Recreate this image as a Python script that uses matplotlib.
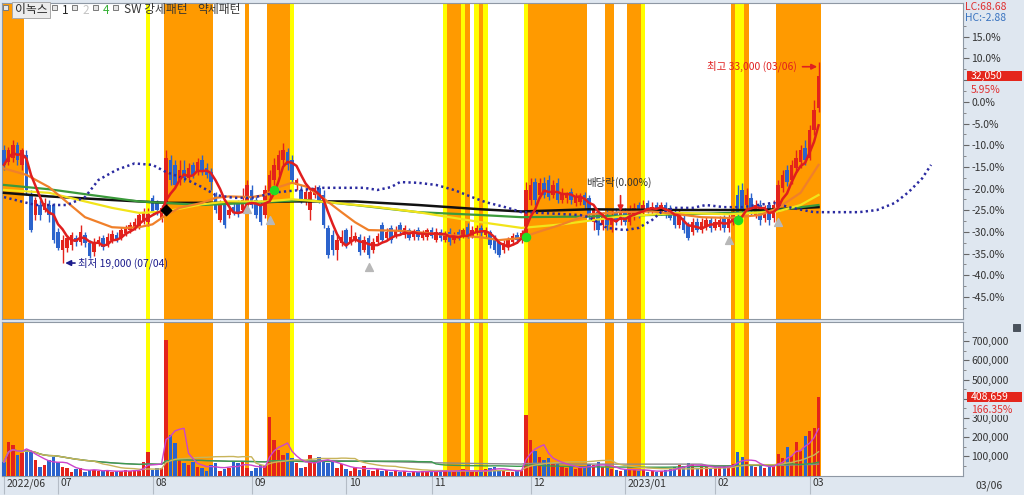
import numpy as np
import pandas as pd
import matplotlib
matplotlib.use("Agg")
import matplotlib.pyplot as plt
from matplotlib.patches import Rectangle
import matplotlib.transforms as mtransforms

plt.rcParams['font.family'] = ['Noto Sans CJK KR', 'DejaVu Sans']

# ---------------- data (daily bars, 2022/06 .. 2023/03/06) ----------------
base_price = 30250

opens = [26900, 26050, 26300, 27250, 25850, 26550, 23750, 22350, 23050, 22700,
         23050, 23050, 21150, 19900, 20050, 20250, 20750, 20450, 20950, 20400,
         19750, 20300, 20750, 20300, 20600, 20950, 20750, 21100, 21300, 21450,
         21500, 22000, 21850, 23550, 23200, 22150, 23050, 26200, 25850, 24800,
         25500, 24900, 25850, 25350, 26200, 25600, 25350, 23750, 22000, 23050,
         22350, 22900, 23200, 22700, 23050, 24100, 23400, 23050, 22350, 23750,
         24800, 25500, 26200, 26750, 26200, 24450, 24100, 23400, 22700, 23750,
         24250, 23750, 21450, 20950, 19900, 20400, 21300, 20450, 20600, 20800,
         19900, 20750, 19900, 20450, 21650, 20750, 21450, 20950, 21650, 20950,
         21300, 20800, 21300, 20750, 20800, 21300, 20600, 21150, 20600, 21150,
         20600, 21150, 20900, 21500, 20900, 21150, 21450, 20950, 21150, 20750,
         20450, 19900, 20100, 20450, 20950, 20600, 20750, 23400, 24650, 23750,
         24600, 24800, 23750, 24600, 23400, 23550, 23950, 23200, 23250, 23750,
         23550, 21850, 22550, 21650, 22350, 21650, 22550, 22000, 22500, 21850,
         22350, 23050, 22550, 23200, 22550, 23050, 22550, 23050, 22850, 22550,
         21650, 22150, 21650, 21150, 21850, 21300, 21500, 22000, 21450, 21500,
         22150, 21450, 21850, 23750, 24100, 23050, 23550, 22350, 23050, 22150,
         23050, 22150, 22700, 24250, 25500, 24800, 25600, 26050, 27000, 26300,
         28250, 29800]

highs = [27250, 27100, 27600, 27450, 27000, 26900, 24100, 23600, 23400, 23550,
         23400, 23200, 21450, 20950, 20950, 21150, 20950, 21650, 21150, 20600,
         20750, 20900, 20950, 21100, 21300, 21150, 21500, 21650, 21850, 22150,
         22500, 22850, 22850, 23750, 23400, 23050, 26900, 26550, 26200, 26200,
         26200, 25950, 26050, 26300, 26550, 25950, 25600, 23950, 23400, 23200,
         23050, 23200, 23400, 24250, 24800, 24450, 23750, 23400, 24450, 25500,
         26300, 26900, 27350, 27000, 26550, 24900, 24450, 24250, 24250, 24450,
         24450, 24100, 21650, 21300, 20950, 21300, 21450, 21650, 21150, 21000,
         20900, 20950, 20750, 21100, 21850, 21450, 21650, 21550, 21850, 21650,
         21450, 21350, 21500, 21300, 21450, 21500, 21450, 21350, 21250, 21450,
         21150, 21350, 21450, 21800, 21550, 21650, 21650, 21500, 21300, 20950,
         20600, 20600, 20800, 21100, 21150, 21300, 24650, 24900, 24900, 24900,
         25000, 25150, 24800, 24900, 24250, 23950, 24250, 23900, 23900, 23950,
         23750, 23050, 22850, 22550, 22700, 22700, 22850, 22850, 22850, 23050,
         23200, 23250, 23400, 23400, 23250, 23250, 23250, 23250, 23050, 22700,
         22700, 22350, 21850, 22150, 22150, 22150, 22200, 22200, 22150, 22250,
         22350, 22400, 22850, 24450, 24600, 24250, 23900, 23400, 23400, 23050,
         23250, 23400, 24800, 25500, 25850, 26200, 26900, 27250, 27600, 28600,
         30350, 33000]

lows = [25500, 25850, 26050, 25850, 25500, 23750, 21150, 22000, 22000, 22550,
        21850, 20400, 19900, 19000, 19750, 19900, 20200, 20250, 20100, 19350,
        19500, 20200, 19900, 20100, 20400, 20450, 20600, 20900, 21100, 21300,
        21350, 21700, 21550, 22350, 22350, 21850, 22700, 24450, 24250, 24450,
        24650, 24800, 24900, 25150, 25150, 24900, 24100, 22500, 21850, 21450,
        22150, 22350, 22200, 22550, 22700, 22850, 22150, 21650, 22150, 23400,
        24450, 25150, 25850, 25500, 24600, 24100, 23200, 23050, 22000, 23550,
        23200, 21450, 19350, 19550, 19200, 20200, 20050, 20250, 20450, 19550,
        19750, 19350, 19700, 20250, 20450, 20600, 20400, 20750, 20950, 20750,
        20600, 20600, 20600, 20600, 20600, 20750, 20450, 20550, 20450, 20250,
        20400, 20600, 20750, 20750, 20750, 20950, 20900, 20750, 20050, 19700,
        19400, 19700, 19900, 20250, 20400, 20400, 20600, 23050, 23050, 23550,
        23550, 23400, 23550, 23200, 23200, 23200, 23100, 22950, 23050, 22850,
        22000, 21300, 20950, 21300, 21300, 21150, 21650, 21650, 21650, 21650,
        22000, 22150, 22350, 22500, 22350, 22400, 22350, 22150, 22000, 21450,
        21450, 21100, 20600, 20950, 21150, 21100, 21300, 21150, 21300, 21300,
        21150, 21150, 21650, 22150, 22500, 22700, 22350, 22150, 21650, 21850,
        21650, 21850, 22550, 23950, 24350, 24500, 25350, 25600, 25850, 26200,
        27950, 29550]

closes = [25850, 26900, 27250, 26200, 26900, 24100, 21300, 23400, 22350, 23200,
          22350, 20600, 20050, 20600, 20750, 20950, 20450, 21150, 20400, 19500,
          20450, 20600, 20100, 20800, 21000, 20600, 21300, 21450, 21650, 21850,
          22350, 22550, 22400, 22550, 22700, 22850, 26300, 24800, 24450, 25500,
          24900, 25600, 25150, 26050, 25350, 25150, 24650, 22700, 23050, 21650,
          22700, 22550, 22500, 23400, 24450, 23050, 22350, 21850, 24100, 25150,
          25850, 26550, 26900, 25850, 24800, 24800, 23400, 23950, 23950, 24250,
          23400, 21650, 19550, 19900, 20600, 20800, 20250, 20800, 20900, 19750,
          20600, 19550, 20450, 20900, 20600, 21150, 20600, 21300, 21150, 21450,
          20750, 21150, 20800, 21100, 21300, 20900, 21150, 20750, 21000, 20450,
          20950, 20800, 21300, 20950, 21300, 21450, 21100, 21300, 20250, 19900,
          19550, 20400, 20600, 20900, 20600, 21100, 24100, 24450, 23400, 24600,
          23750, 23600, 24450, 23400, 23900, 23750, 23400, 23600, 23600, 23050,
          22350, 22700, 21300, 22350, 21650, 22350, 21850, 22550, 21850, 22700,
          22850, 22550, 23050, 22700, 22900, 22700, 23050, 22350, 22150, 21650,
          22350, 21300, 20750, 21850, 21300, 21850, 22000, 21450, 21850, 22000,
          21450, 22150, 22550, 22350, 22700, 23750, 22700, 23050, 22000, 22700,
          22000, 23050, 24450, 25150, 24650, 25850, 26300, 26900, 26200, 28250,
          29650, 32050]

volumes = [70000, 175000, 160000, 107000, 117000, 133000, 122000, 80000, 44000, 55000,
           80000, 96000, 70000, 44000, 39000, 18000, 34000, 39000, 18000, 29000,
           29000, 25000, 22000, 25000, 18000, 22000, 25000, 28000, 22000, 30000,
           25000, 70000, 122000, 30000, 39000, 39000, 705000, 210000, 170000, 80000,
           65000, 55000, 70000, 44000, 39000, 25000, 55000, 65000, 25000, 34000,
           39000, 70000, 65000, 70000, 39000, 25000, 39000, 55000, 55000, 305000,
           185000, 133000, 107000, 117000, 91000, 65000, 39000, 44000, 107000, 70000,
           96000, 70000, 65000, 70000, 40000, 60000, 35000, 25000, 45000, 30000,
           50000, 30000, 25000, 35000, 22000, 30000, 20000, 25000, 18000, 22000,
           15000, 20000, 18000, 22000, 25000, 20000, 18000, 25000, 30000, 22000,
           20000, 25000, 35000, 22000, 18000, 20000, 25000, 35000, 40000, 45000,
           30000, 25000, 20000, 18000, 30000, 30000, 313000, 183000, 130000, 95000,
           80000, 90000, 60000, 70000, 45000, 40000, 50000, 35000, 40000, 45000,
           60000, 55000, 70000, 45000, 40000, 35000, 30000, 25000, 30000, 35000,
           30000, 25000, 28000, 20000, 22000, 18000, 25000, 30000, 35000, 45000,
           55000, 50000, 65000, 60000, 40000, 55000, 45000, 35000, 40000, 45000,
           50000, 55000, 60000, 120000, 95000, 70000, 55000, 45000, 50000, 40000,
           45000, 55000, 110000, 90000, 150000, 100000, 175000, 130000, 205000, 230000,
           245660, 408659]

month_idx = [0, 12, 33, 55, 76, 95, 117, 138, 158, 179]
month_labels = ['2022/06', '07', '08', '09', '10', '11', '12', '2023/01', '02', '03']
last_date = '03/06'

# pattern shading (bar index ranges, inclusive)
orange_bands = [(0, 4), (36, 46), (54, 54), (59, 63), (99, 101), (103, 103), (106, 106),
                (117, 129), (134, 135), (139, 141), (162, 162), (165, 165), (172, 181)]
yellow_bands = [(32, 32), (64, 64), (98, 98), (102, 102), (105, 105), (107, 107),
                (116, 116), (142, 142), (163, 164)]

# moving averages (bar index, price)
ma_orange_idx = [0, 5, 10, 14, 18, 24, 27, 30, 33, 36, 39, 44, 47, 50, 55, 58, 61, 64, 67, 70,
                 75, 78, 81, 88, 92, 97, 106, 110, 115, 118, 124, 130, 137, 144, 150, 155, 161,
                 168, 172, 177, 181]
ma_orange = [25600, 25150, 24300, 23250, 22200, 21500, 21450, 21500, 21700, 22350, 22850, 23200,
             23550, 23650, 23600, 23750, 24300, 24600, 24350, 23750, 22550, 21850, 21300, 21250,
             21150, 21000, 20800, 20600, 20750, 21100, 21700, 22400, 22550, 22600, 22400, 22200,
             22150, 22350, 22850, 23900, 25850]
ma_yellow_idx = [0, 10, 24, 30, 36, 44, 50, 58, 64, 72, 83, 92, 106, 115, 124, 137, 150, 161, 172, 177, 181]
ma_yellow = [24100, 23900, 22850, 22500, 22600, 23100, 23300, 23300, 23450, 23250, 22900, 22550,
             21850, 21450, 21700, 22250, 22500, 22400, 22600, 23050, 23750]
ma_green_idx = [0, 10, 24, 30, 44, 55, 67, 78, 92, 106, 115, 130, 150, 168, 181]
ma_green = [24450, 24150, 23550, 23300, 23050, 23200, 23400, 23050, 22550, 22350, 22200, 22250,
            22400, 22550, 23050]
ma_black_idx = [0, 10, 24, 36, 50, 64, 78, 92, 106, 115, 130, 150, 168, 181]
ma_black = [23900, 23650, 23400, 23200, 23200, 23300, 23300, 23050, 22750, 22600, 22750, 22700,
            22700, 22900]
span_idx = [0, 7, 14, 18, 21, 25, 29, 33, 36, 40, 44, 47, 51, 55, 61, 66, 71, 80, 83, 86, 88, 92,
            96, 100, 104, 107, 112, 115, 119, 128, 130, 134, 138, 141, 144, 146, 149, 153, 156,
            160, 164, 171, 175, 180, 184, 190, 194, 198, 201, 204, 206]
span_vals = [23600, 23050, 23050, 23600, 24800, 25500, 25950, 25850, 25350, 24900, 24300, 23750,
             23550, 23550, 23950, 24100, 24250, 24250, 24100, 24300, 24650, 24600, 24450, 24100,
             23600, 23250, 22850, 22550, 22500, 22350, 22200, 21450, 21300, 21450, 22000, 22550,
             22850, 22850, 23050, 22900, 22900, 23200, 22850, 22550, 22550, 22550, 22700, 23200,
             23950, 24900, 25850]

# signal markers (bar index, price)
diamond_idx, diamond_val = [36], [22700]
green_idx, green_val = [60, 116, 163], [24100, 20800, 22000]
gray_idx, gray_val = [54, 59, 81, 161, 172], [22800, 22000, 18700, 20600, 21850]
exdiv_idx = 137

# ---------------- figure ----------------
W, H = 1024, 495
PANEL_BG = '#dfe7f0'
fig = plt.figure(figsize=(W / 100, H / 100), dpi=100, facecolor=PANEL_BG)


def fx(px):
    return px / W


def fy(py):
    return 1 - py / H


ax = fig.add_axes([fx(2), fy(319), fx(963) - fx(2), fy(3) - fy(319)])
axv = fig.add_axes([fx(2), fy(476), fx(963) - fx(2), fy(322) - fy(476)], sharex=ax)

n = len(closes)
idx = np.arange(n)
o = np.array(opens, float)
h = np.array(highs, float)
l = np.array(lows, float)
c = np.array(closes, float)
v = np.array(volumes, float)

RED = '#e3231b'
BLUE = '#2b63cc'
ORANGE = '#ff9a00'
YELLOW = '#ffff00'

for a in (ax, axv):
    a.set_facecolor('white')
    for s0, s1 in orange_bands:
        a.axvspan(s0 - 0.5, s1 + 0.5, color=ORANGE, lw=0, zorder=0)
    for s0, s1 in yellow_bands:
        a.axvspan(s0 - 0.5, s1 + 0.5, color=YELLOW, lw=0, zorder=0)
    for sp in a.spines.values():
        sp.set_color('#8e98a4')
        sp.set_linewidth(0.8)

colors = np.where(c >= o, RED, BLUE)

# candles
ax.vlines(idx, l, h, colors=colors, lw=1.0, zorder=3)
body_lo = np.minimum(o, c)
body_h = np.maximum(np.abs(c - o), 40)
ax.bar(idx, body_h, bottom=body_lo, width=0.72, color=colors, lw=0, zorder=4)

# moving averages
ma5 = pd.Series(c).rolling(5, min_periods=1).mean()
ax.plot(ma_black_idx, ma_black, color='#111111', lw=1.8, zorder=5)
ax.plot(ma_green_idx, ma_green, color='#3b9a3b', lw=1.6, zorder=5)
ax.plot(ma_yellow_idx, ma_yellow, color='#f2e41a', lw=1.6, zorder=5)
ax.plot(ma_orange_idx, ma_orange, color='#f0802a', lw=1.6, zorder=5)
ax.plot(idx, ma5, color='#e01e1e', lw=1.8, zorder=6)
ax.plot(span_idx, span_vals, color='#2a2aa0', lw=1.8, ls=(0, (0.9, 1.3)), zorder=5)

# markers
ax.scatter(diamond_idx, diamond_val, marker='D', s=28, color='black', zorder=8)
ax.scatter(green_idx, green_val, marker='o', s=34, color='#22dd22', zorder=8)
ax.scatter(gray_idx, gray_val, marker='^', s=32, color='#b8b8b8', zorder=8)

# annotations
lo_i = int(np.argmin(l))
hi_i = int(np.argmax(h))
ax.annotate(f'최저 {int(l[lo_i]):,} (07/04)', xy=(lo_i + 0.6, l[lo_i]), xytext=(lo_i + 3.4, l[lo_i]),
            ha='left', va='center', fontsize=7.5, color='#1c1c8c',
            arrowprops=dict(arrowstyle='-|>', color='#1c1c8c', lw=1.2, shrinkA=0, shrinkB=0,
                            mutation_scale=8), zorder=9)
ax.annotate(f'최고 {int(h[hi_i]):,} (03/06)', xy=(hi_i - 0.3, 32700), xytext=(hi_i - 4.8, 32700),
            ha='right', va='center', fontsize=7.5, color='#e02020',
            arrowprops=dict(arrowstyle='-|>', color='#e02020', lw=1.2, shrinkA=2, shrinkB=0,
                            mutation_scale=8), zorder=9)
ax.text(exdiv_idx - 0.3, 24600, '배당락(0.00%)', ha='center', va='center', fontsize=7.5,
        color='#333333', zorder=9)
ax.annotate('', xy=(exdiv_idx, 22600), xytext=(exdiv_idx, 23700),
            arrowprops=dict(arrowstyle='-|>', color='#e02020', lw=1.2, shrinkA=0, shrinkB=0,
                            mutation_scale=8), zorder=9)

# axes limits
xlim = (-0.444, 213.1)
ax.set_xlim(*xlim)
ax.set_ylim(base_price * (1 - 0.501), base_price * (1 + 0.228))

pct_major = list(range(15, -50, -5))
ax.yaxis.tick_right()
ax.set_yticks([base_price * (1 + p / 100) for p in pct_major])
# the 5.0% label sits under the current-price tag, as in the reference
ax.set_yticklabels(['' if p == 5 else f'{p:.1f}%' for p in pct_major])
ax.set_yticks([base_price * (1 + (p - 2.5) / 100) for p in pct_major] + [base_price * 1.175],
              minor=True)
ax.tick_params(axis='y', which='major', direction='out', length=4, width=0.8, color='#666666',
               labelsize=7.5, labelcolor='#333333', pad=2)
ax.tick_params(axis='y', which='minor', direction='out', length=2, width=0.7, color='#888888')
ax.tick_params(axis='x', which='both', bottom=False, labelbottom=False)

# volume
axv.bar(idx, v, width=0.68, color=colors, lw=0, zorder=3)
vs = pd.Series(v)
axv.plot(idx, vs.rolling(120, min_periods=1).mean(), color='#8c8c8c', lw=1.0, zorder=4)
axv.plot(idx, vs.rolling(60, min_periods=1).mean(), color='#3c9a50', lw=1.0, zorder=4)
axv.plot(idx, vs.rolling(20, min_periods=1).mean(), color='#c8b45a', lw=1.0, zorder=4)
axv.plot(idx, vs.rolling(5, min_periods=1).mean(), color='#cc44cc', lw=1.0, zorder=4)
axv.set_ylim(-2600, 800000)
vt = list(range(100000, 800000, 100000))
axv.yaxis.tick_right()
axv.set_yticks(vt)
# the 400,000 label sits under the volume tag, as in the reference
axv.set_yticklabels(['' if t == 400000 else f'{t:,}' for t in vt])
axv.set_yticks([t - 50000 for t in vt] + [750000], minor=True)
axv.tick_params(axis='y', which='major', direction='out', length=4, width=0.8, color='#666666',
                labelsize=7.5, labelcolor='#333333', pad=2)
axv.tick_params(axis='y', which='minor', direction='out', length=2, width=0.7, color='#888888')

axv.set_xticks(month_idx)
axv.set_xticklabels(month_labels)
axv.tick_params(axis='x', which='major', direction='out', length=13, width=0.8, color='#b4bcc6',
                labelsize=7.5, labelcolor='#333333', pad=-11.5)
offset = mtransforms.ScaledTranslation(2 / 72, 0, fig.dpi_scale_trans)
for lbl in axv.get_xticklabels():
    lbl.set_horizontalalignment('left')
    lbl.set_transform(lbl.get_transform() + offset)

# right-side value tags
blend = mtransforms.blended_transform_factory(ax.transAxes, ax.transData)
ax.add_patch(Rectangle((1.004, c[-1] - 380), 0.057, 760, transform=blend, clip_on=False,
                       fc='#e4261c', ec='none', zorder=10))
ax.text(1.008, c[-1], f'{int(c[-1]):,}', transform=blend, color='white', fontsize=7.5,
        va='center', ha='left', clip_on=False, zorder=11)
ax.annotate(f'{(c[-1] / base_price - 1) * 100:.2f}%', xy=(1.008, c[-1]), xycoords=blend,
            xytext=(0, -10), textcoords='offset points', color='#e03030', fontsize=7.5,
            va='center', ha='left', annotation_clip=False)

blendv = mtransforms.blended_transform_factory(axv.transAxes, axv.transData)
axv.add_patch(Rectangle((1.004, v[-1] - 27500), 0.057, 55000, transform=blendv, clip_on=False,
                        fc='#e4261c', ec='none', zorder=10))
axv.text(1.008, v[-1], f'{int(v[-1]):,}', transform=blendv, color='white', fontsize=7.5,
         va='center', ha='left', clip_on=False, zorder=11)
axv.annotate(f'{v[-1] / v[-2] * 100:.2f}%', xy=(1.008, v[-1]), xycoords=blendv,
             xytext=(0, -9), textcoords='offset points', color='#e03030', fontsize=7.5,
             va='center', ha='left', annotation_clip=False, zorder=11,
             bbox=dict(boxstyle='square,pad=0.05', fc=PANEL_BG, ec='none'))

lc = (c[-1] - l.min()) / l.min() * 100
hc = (c[-1] - h.max()) / h.max() * 100
fig.text(fx(965), fy(7), f'LC:{lc:.2f}', color='#e03030', fontsize=7.5, va='center', ha='left')
fig.text(fx(965), fy(18), f'HC:{hc:.2f}', color='#3a74c0', fontsize=7.5, va='center', ha='left')
fig.text(fx(975), fy(486), last_date, color='#333333', fontsize=7.5, va='center', ha='left')


# legend row (top-left)
def fig_box(x0, y0, w, hh, fc, ec):
    fig.add_artist(Rectangle((fx(x0), fy(y0 + hh)), w / W, hh / H, transform=fig.transFigure,
                             fc=fc, ec=ec, lw=0.7, zorder=20))


fig_box(3, 5, 5, 5, '#e6e6e6', '#7a7a7a')
fig_box(12, 2, 38, 16, '#ececec', '#a8a8a8')
fig.text(fx(15), fy(10), '이녹스', fontsize=8.5, color='#222222', va='center', ha='left', zorder=21)
for sx in (52, 72, 93, 113):
    fig_box(sx, 5, 5, 5, '#e6e6e6', '#7a7a7a')
fig.text(fx(62), fy(10), '1', fontsize=8.5, color='#222222', va='center', ha='left', zorder=21)
fig.text(fx(82), fy(10), '2', fontsize=8.5, color='#c4c4c4', va='center', ha='left', zorder=21)
fig.text(fx(103), fy(10), '4', fontsize=8.5, color='#35b035', va='center', ha='left', zorder=21)
fig.text(fx(124), fy(10), 'SW 강세패턴', fontsize=8.5, color='#333333', va='center', ha='left', zorder=21)
fig.text(fx(197), fy(10), '약세패턴', fontsize=8.5, color='#333333', va='center', ha='left', zorder=21)

# small icon at top-right of volume pane
fig_box(1013, 324, 7, 7, '#4a525c', '#4a525c')

fig.savefig('out.png', dpi=100, facecolor=fig.get_facecolor())
